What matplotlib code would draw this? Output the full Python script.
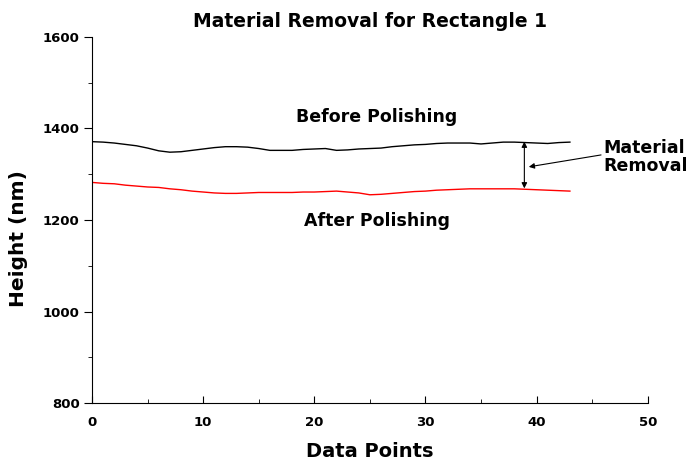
import numpy as np
import matplotlib.pyplot as plt
from matplotlib.ticker import MultipleLocator

plt.rcParams['font.family'] = ['DejaVu Sans']
plt.rcParams['font.weight'] = 'bold'

# data
points = np.arange(0, 44)
before = [1371, 1370, 1368, 1365, 1362, 1357, 1351, 1348, 1349, 1352,
          1355, 1358, 1360, 1360, 1359, 1356, 1352, 1352, 1352, 1354,
          1355, 1356, 1352, 1353, 1355, 1356, 1357, 1360, 1362, 1364,
          1365, 1367, 1368, 1368, 1368, 1366, 1368, 1370, 1370, 1369,
          1368, 1367, 1369, 1370]
after = [1282, 1280, 1279, 1276, 1274, 1272, 1271, 1268, 1266, 1263,
         1261, 1259, 1258, 1258, 1259, 1260, 1260, 1260, 1260, 1261,
         1261, 1262, 1263, 1261, 1259, 1255, 1256, 1258, 1260, 1262,
         1263, 1265, 1266, 1267, 1268, 1268, 1268, 1268, 1268, 1267,
         1266, 1265, 1264, 1263]

fig = plt.figure(figsize=(6.92, 4.66), dpi=100)
ax = fig.add_axes([0.133, 0.135, 0.803, 0.786])

ax.plot(points, before, color='black', lw=1)
ax.plot(points, after, color='red', lw=1)

ax.set_xlim(0, 50)
ax.set_ylim(800, 1600)
ax.xaxis.set_major_locator(MultipleLocator(10))
ax.xaxis.set_minor_locator(MultipleLocator(5))
ax.yaxis.set_major_locator(MultipleLocator(200))
ax.yaxis.set_minor_locator(MultipleLocator(100))
ax.spines['top'].set_visible(False)
ax.spines['right'].set_visible(False)
ax.tick_params(axis='x', which='both', direction='in', labelsize=9.5, pad=9)
ax.tick_params(axis='x', which='major', length=5)
ax.tick_params(axis='x', which='minor', length=3)
ax.tick_params(axis='y', which='both', direction='out', labelsize=9.5, pad=3)
ax.tick_params(axis='y', which='major', length=6)
ax.tick_params(axis='y', which='minor', length=3)
for lab in ax.get_xticklabels() + ax.get_yticklabels():
    lab.set_fontweight('bold')

ax.set_title('Material Removal for Rectangle 1', fontsize=13.5, fontweight='bold', pad=7)
ax.set_xlabel('Data Points', fontsize=14, fontweight='bold', labelpad=10)
ax.set_ylabel('Height (nm)', fontsize=14.5, fontweight='bold')
ax.yaxis.set_label_coords(-0.115, 0.45)

ax.text(25.6, 1425, 'Before Polishing', ha='center', va='center', fontsize=12.5, fontweight='bold')
ax.text(25.6, 1198, 'After Polishing', ha='center', va='center', fontsize=12.5, fontweight='bold')
ax.text(46.0, 1338, 'Material\nRemoval', ha='left', va='center', fontsize=12.5,
        fontweight='bold', linespacing=1.0, clip_on=False)

# double arrow between the curves
ax.annotate('', xy=(38.9, 1371), xytext=(38.9, 1269),
            arrowprops=dict(arrowstyle='<|-|>', color='black', lw=0.8,
                            mutation_scale=8, shrinkA=0, shrinkB=0))
# pointer from the label
ax.annotate('', xy=(39.3, 1316), xytext=(45.8, 1342),
            arrowprops=dict(arrowstyle='-|>', color='black', lw=0.8,
                            mutation_scale=8, shrinkA=0, shrinkB=0))

plt.savefig('out.png', dpi=100)
